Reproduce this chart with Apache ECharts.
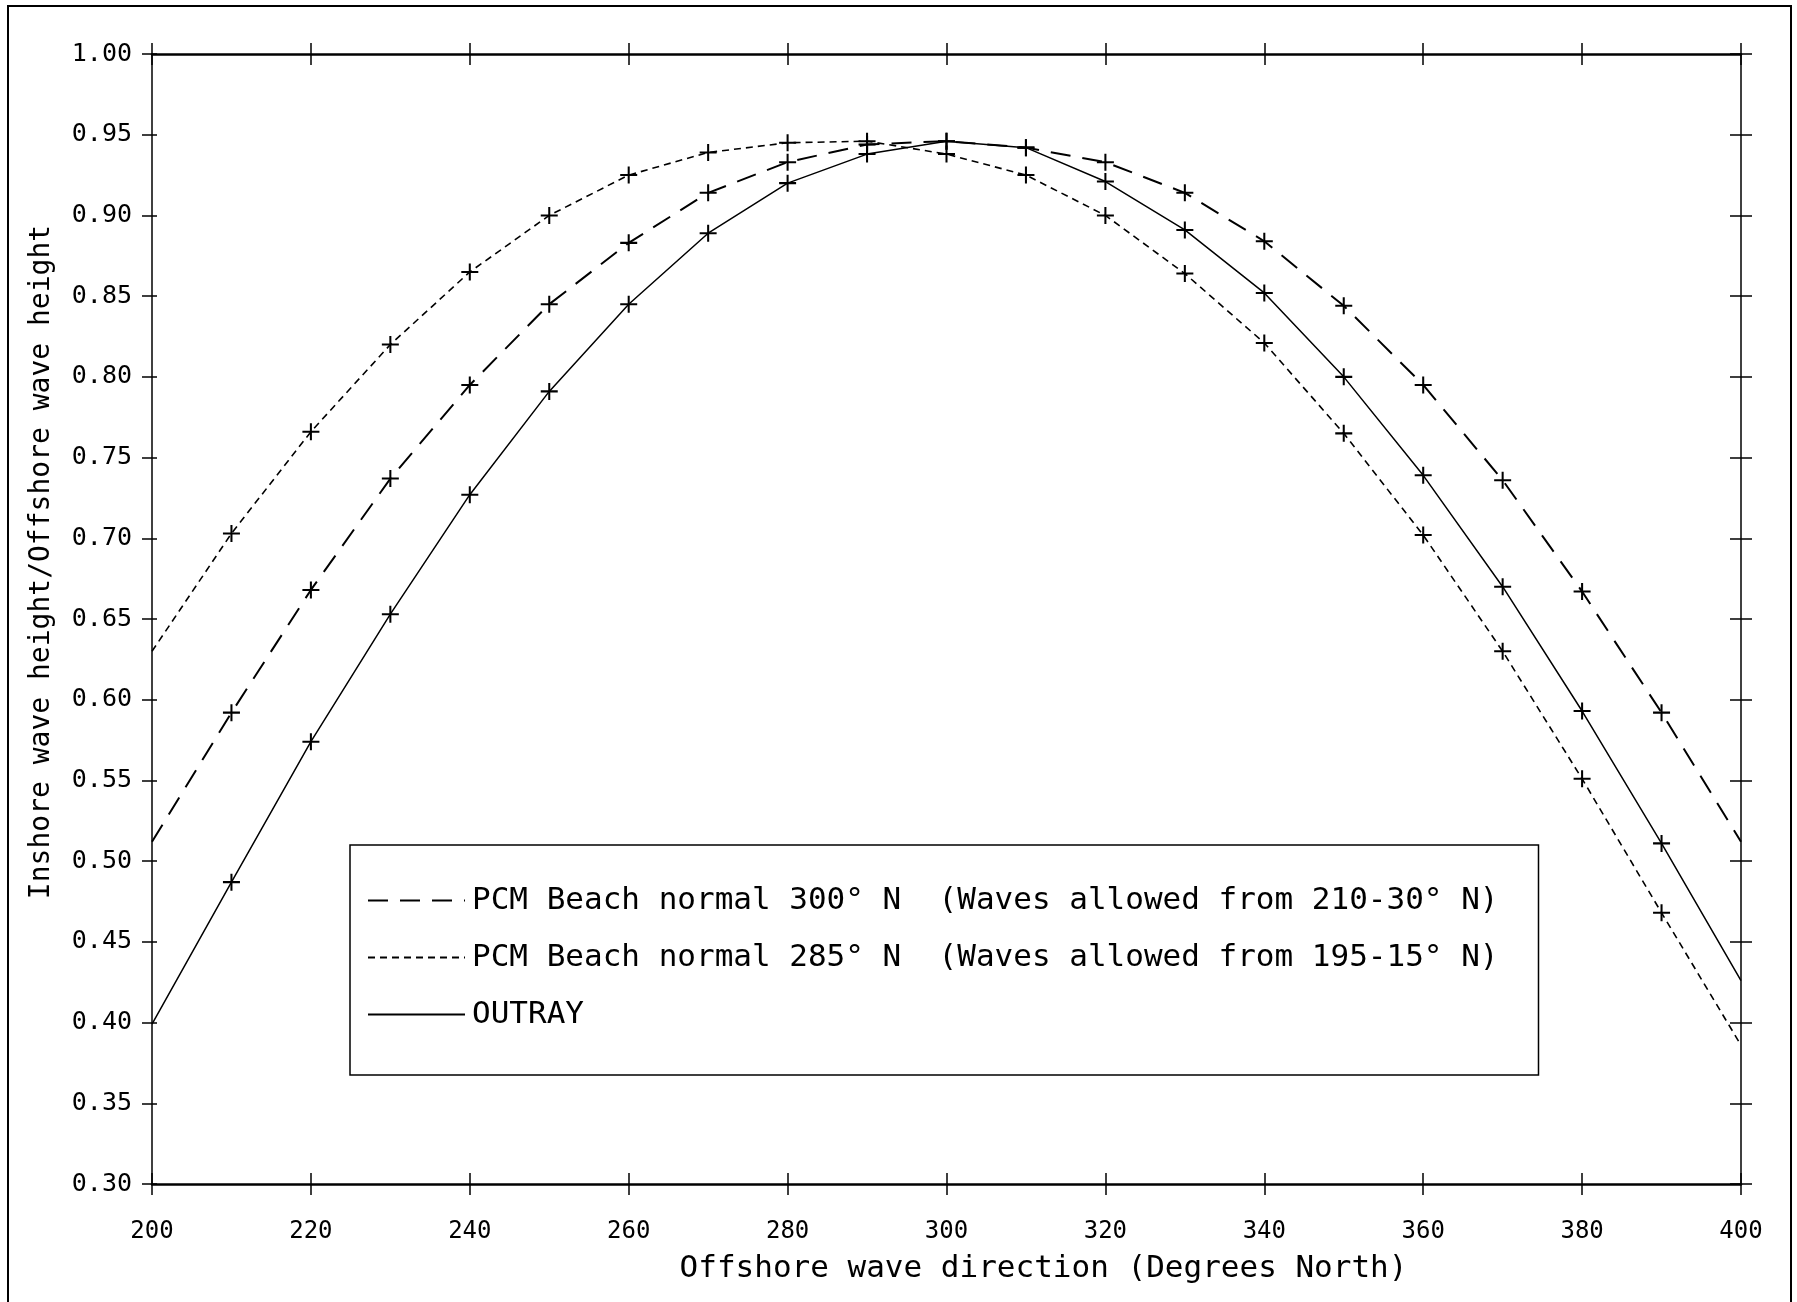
<!DOCTYPE html>
<html>
<head>
<meta charset="utf-8">
<title>Inshore / offshore wave height ratio</title>
<script src="https://cdn.jsdelivr.net/npm/echarts@6/dist/echarts.min.js"></script>
<style>
  html, body { margin: 0; padding: 0; background: #fff; }
  #chart { width: 1797px; height: 1302px; }
</style>
</head>
<body>
<div id="chart"></div>
<script>
// Offshore wave direction (degrees North)
const directions = [200, 210, 220, 230, 240, 250, 260, 270, 280, 290, 300,
                    310, 320, 330, 340, 350, 360, 370, 380, 390, 400];

// PCM, beach normal 300° N
const pcm300 = [0.512, 0.592, 0.668, 0.737, 0.795, 0.845, 0.883, 0.914, 0.933, 0.944, 0.946,
                0.942, 0.933, 0.914, 0.884, 0.844, 0.795, 0.736, 0.667, 0.592, 0.512];

// PCM, beach normal 285° N
const pcm285 = [0.630, 0.703, 0.766, 0.820, 0.865, 0.900, 0.925, 0.939, 0.945, 0.946, 0.938,
                0.925, 0.900, 0.864, 0.821, 0.765, 0.702, 0.630, 0.551, 0.468, 0.386];

// OUTRAY ray model
const outray = [0.399, 0.487, 0.574, 0.653, 0.727, 0.791, 0.845, 0.889, 0.920, 0.938, 0.946,
                0.942, 0.921, 0.891, 0.852, 0.800, 0.739, 0.670, 0.593, 0.511, 0.426];

const seriesNames = [
  'PCM Beach normal 300\u00B0 N  (Waves allowed from 210\u201130\u00B0 N)',
  'PCM Beach normal 285\u00B0 N  (Waves allowed from 195\u201115\u00B0 N)',
  'OUTRAY'
];

const FONT = '"DejaVu Sans Mono", monospace';
const PLUS = 'path://M-1.2,-10L1.2,-10L1.2,-1.2L10,-1.2L10,1.2L1.2,1.2L1.2,10L-1.2,10L-1.2,1.2L-10,1.2L-10,-1.2L-1.2,-1.2Z';

// plotted points carry a "+" marker, except the two end points
function pairs(values) {
  return directions.map((d, i) => {
    const item = { value: [d, values[i]] };
    if (i === 0 || i === directions.length - 1) item.symbol = 'none';
    return item;
  });
}

function lineSeries(name, values, type, width) {
  return {
    name: name,
    type: 'line',
    xAxisIndex: 0,
    yAxisIndex: 0,
    data: pairs(values),
    symbol: PLUS,
    symbolSize: 17,
    symbolKeepAspect: true,
    itemStyle: { color: '#000' },
    lineStyle: { color: '#000', width: width, type: type },
    animation: false,
    z: 5
  };
}

// tick-only duplicate axes, so ticks can cross the frame lines
function tickAxis(position, inside, isX) {
  return {
    type: 'value',
    position: position,
    min: isX ? 200 : 0.3,
    max: isX ? 400 : 1.0,
    interval: isX ? 20 : 0.05,
    axisLine: { show: false },
    axisTick: { show: true, inside: inside, length: 11, lineStyle: { color: '#000', width: 1.5 } },
    axisLabel: { show: false },
    splitLine: { show: false }
  };
}

const chart = echarts.init(document.getElementById('chart'), null, { renderer: 'canvas' });

chart.setOption({
  backgroundColor: '#fff',
  animation: false,
  textStyle: { fontFamily: FONT, color: '#000' },
  grid: { left: 152, right: 56, top: 54, bottom: 118, containLabel: false },
  xAxis: [
    {
      type: 'value',
      position: 'bottom',
      min: 200, max: 400, interval: 20,
      name: 'Offshore wave direction (Degrees North)',
      nameLocation: 'middle',
      nameGap: 69,
      nameTextStyle: { fontFamily: FONT, fontSize: 31, color: '#000', padding: [0, 0, 0, 194] },
      axisLine: { show: true, lineStyle: { color: '#000', width: 2.5 } },
      axisTick: { show: true, inside: false, length: 11, lineStyle: { color: '#000', width: 1.5 } },
      axisLabel: { fontFamily: FONT, fontSize: 24, color: '#000', margin: 36 },
      splitLine: { show: false }
    },
    tickAxis('bottom', true, true),
    Object.assign(tickAxis('top', false, true), { axisLine: { show: true, onZero: false, lineStyle: { color: '#000', width: 2.5 } } }),
    tickAxis('top', true, true)
  ],
  yAxis: [
    {
      type: 'value',
      position: 'left',
      min: 0.3, max: 1.0, interval: 0.05,
      name: 'Inshore wave height/Offshore wave height',
      nameLocation: 'middle',
      nameGap: 96,
      nameRotate: 90,
      nameTextStyle: { fontFamily: FONT, fontSize: 28, color: '#000', padding: [0, 0, 0, 114] },
      axisLine: { show: true, lineStyle: { color: '#000', width: 1.5 } },
      axisTick: { show: true, inside: false, length: 10, lineStyle: { color: '#000', width: 1.5 } },
      axisLabel: {
        fontFamily: FONT, fontSize: 25, color: '#000', margin: 20,
        formatter: v => v.toFixed(2)
      },
      splitLine: { show: false }
    },
    Object.assign(tickAxis('left', true, false), { axisTick: { show: true, inside: true, length: 5, lineStyle: { color: '#000', width: 1.5 } } }),
    Object.assign(tickAxis('right', false, false), { axisLine: { show: true, onZero: false, lineStyle: { color: '#000', width: 1.5 } } }),
    tickAxis('right', true, false)
  ],
  legend: {
    orient: 'vertical',
    left: 350,
    top: 845,
    padding: [40, 40, 45, 17],
    itemWidth: 97,
    itemHeight: 30,
    itemGap: 26,
    borderColor: '#000',
    borderWidth: 1.5,
    backgroundColor: '#fff',
    itemStyle: { color: 'transparent', borderWidth: 0 },
    textStyle: { fontFamily: FONT, fontSize: 31, color: '#000', padding: [0, 0, 0, 2] },
    data: seriesNames,
    selectedMode: false,
    z: 10
  },
  graphic: [
    {
      type: 'rect',
      shape: { x: 8, y: 6, width: 1783, height: 1310 },
      style: { fill: null, stroke: '#000', lineWidth: 2 },
      silent: true,
      z: 0
    }
  ],
  series: [
    lineSeries(seriesNames[0], pcm300, [20, 12], 2),
    lineSeries(seriesNames[1], pcm285, [7, 5], 1.6),
    lineSeries(seriesNames[2], outray, 'solid', 1.5)
  ]
});
</script>
</body>
</html>
